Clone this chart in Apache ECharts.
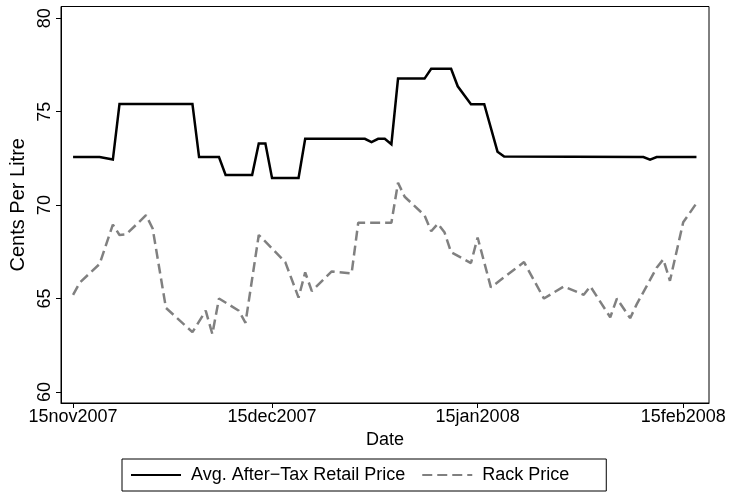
<!DOCTYPE html>
<html>
<head>
<meta charset="utf-8">
<script src="https://cdn.jsdelivr.net/npm/echarts@6/dist/echarts.min.js"></script>
<style>
html,body{margin:0;padding:0;background:#fff;}
#chart{width:729px;height:499px;}
</style>
</head>
<body>
<div id="chart"></div>
<script>
// ---- data ----
const retailDates = ['2007-11-15','2007-11-19','2007-11-21','2007-11-22','2007-12-03','2007-12-04','2007-12-07','2007-12-08','2007-12-12','2007-12-13','2007-12-14','2007-12-15','2007-12-19','2007-12-20','2007-12-29','2007-12-30','2007-12-31','2008-01-01','2008-01-02','2008-01-03','2008-01-07','2008-01-08','2008-01-11','2008-01-12','2008-01-14','2008-01-16','2008-01-18','2008-01-19','2008-02-09','2008-02-10','2008-02-11','2008-02-17'];
const retailValues = [72.57,72.57,72.44,75.41,75.41,72.57,72.57,71.61,71.61,73.30,73.30,71.45,71.45,73.55,73.55,73.37,73.55,73.55,73.26,76.77,76.77,77.30,77.30,76.36,75.40,75.40,72.86,72.60,72.57,72.43,72.57,72.57];

const rackDates = ['2007-11-15','2007-11-16','2007-11-19','2007-11-21','2007-11-22','2007-11-23','2007-11-26','2007-11-27','2007-11-29','2007-12-03','2007-12-05','2007-12-06','2007-12-07','2007-12-10','2007-12-11','2007-12-13','2007-12-14','2007-12-17','2007-12-19','2007-12-20','2007-12-21','2007-12-24','2007-12-27','2007-12-28','2008-01-02','2008-01-03','2008-01-04','2008-01-07','2008-01-08','2008-01-09','2008-01-10','2008-01-11','2008-01-14','2008-01-15','2008-01-17','2008-01-22','2008-01-25','2008-01-28','2008-01-31','2008-02-01','2008-02-04','2008-02-05','2008-02-07','2008-02-08','2008-02-11','2008-02-12','2008-02-13','2008-02-15','2008-02-17'];
const rackValues = [65.20,65.85,66.85,68.96,68.40,68.43,69.46,68.75,64.50,63.20,64.35,63.10,65.00,64.35,63.70,68.40,68.05,66.95,65.05,66.40,65.40,66.45,66.35,69.06,69.06,71.20,70.45,69.45,68.60,69.00,68.55,67.48,66.90,68.27,65.60,66.95,65.00,65.65,65.20,65.65,64.00,65.00,63.95,64.70,66.65,67.10,65.95,69.08,70.10];

const xTickDates = ['2007-11-15','2007-12-15','2008-01-15','2008-02-15'];
const yTickValues = [60,65,70,75,80];
const seriesNames = ['Avg. After\u2212Tax Retail Price','Rack Price'];
const monthNames = ['jan','feb','mar','apr','may','jun','jul','aug','sep','oct','nov','dec'];

// ---- helpers ----
function toTime(s){ const p = s.split('-').map(Number); return Date.UTC(p[0], p[1]-1, p[2]); }
const DAY = 86400000;
const t0 = toTime('2007-11-15');

const chart = echarts.init(document.getElementById('chart'), null, {renderer:'canvas'});
const FONT = 'Liberation Sans, Arial, Helvetica, sans-serif';
const FS = 18;

chart.setOption({
  animation:false,
  backgroundColor:'#fff',
  textStyle:{fontFamily:FONT},
  grid:{left:61, right:20, top:6.5, bottom:96, show:true, borderColor:'#000', borderWidth:1, backgroundColor:'#fff'},
  xAxis:{
    type:'value',
    min: t0 - 1.82*DAY,
    max: t0 + 95.89*DAY,
    name:'Date', nameLocation:'middle', nameGap:28,
    nameTextStyle:{color:'#000', fontSize:FS, fontFamily:FONT},
    axisLine:{show:true, onZero:false, lineStyle:{color:'#000', width:1}},
    axisTick:{show:true, length:5, lineStyle:{color:'#000'}, customValues: xTickDates.map(toTime)},
    axisLabel:{color:'#000', fontSize:FS, fontFamily:FONT, margin:5, hideOverlap:false,
      showMinLabel:true, showMaxLabel:true,
      customValues: xTickDates.map(toTime),
      formatter:function(v){ const d=new Date(v); return d.getUTCDate()+monthNames[d.getUTCMonth()]+d.getUTCFullYear(); }},
    splitLine:{show:false}
  },
  yAxis:{
    type:'value',
    min:59.41, max:80.63,
    name:'Cents Per Litre', nameLocation:'middle', nameGap:33,
    nameTextStyle:{color:'#000', fontSize:20, fontFamily:FONT},
    axisLine:{show:true, lineStyle:{color:'#000', width:1}},
    axisTick:{show:true, length:5, lineStyle:{color:'#000'}, customValues: yTickValues},
    axisLabel:{color:'#000', fontSize:FS, fontFamily:FONT, rotate:90, margin:7, customValues: yTickValues},
    splitLine:{show:false}
  },
  legend:{
    left:122, top:459,
    orient:'horizontal',
    itemWidth:50, itemHeight:14, itemGap:16,
    padding:[7,37,7,8],
    borderColor:'#000', borderWidth:1, borderRadius:0,
    itemStyle:{opacity:0},
    textStyle:{color:'#000', fontSize:FS, fontFamily:FONT, padding:[0,0,0,5]},
    data: seriesNames
  },
  series:[
    {name:seriesNames[0], type:'line', symbol:'none', showSymbol:false,
     data: retailDates.map((d,i)=>[toTime(d), retailValues[i]]),
     lineStyle:{color:'#000', width:2.5, type:'solid', join:'miter'}, itemStyle:{color:'#000'}},
    {name:seriesNames[1], type:'line', symbol:'none', showSymbol:false,
     data: rackDates.map((d,i)=>[toTime(d), rackValues[i]]),
     lineStyle:{color:'#808080', width:2.5, type:[10,5]}, itemStyle:{color:'#808080'}}
  ]
});
</script>
</body>
</html>
